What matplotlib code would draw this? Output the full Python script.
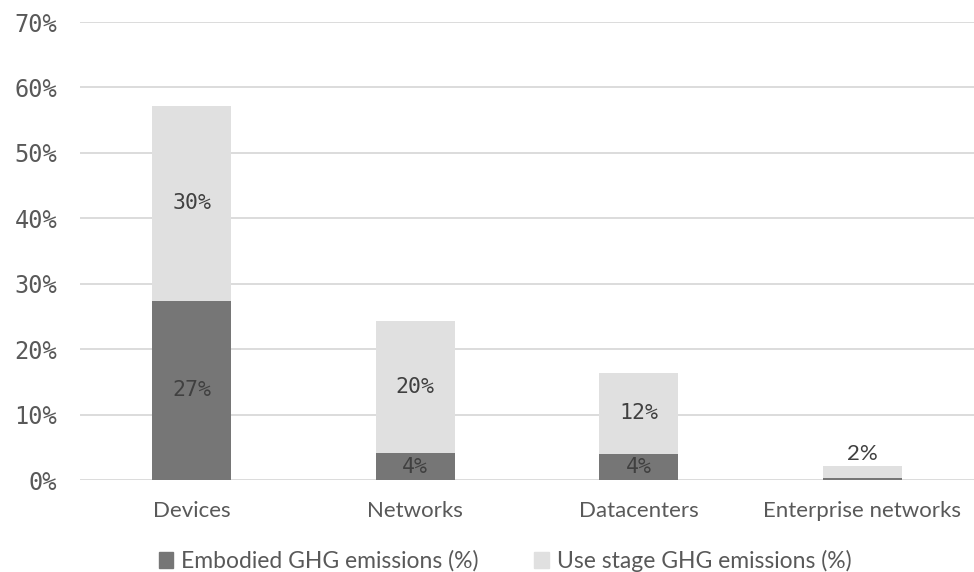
import matplotlib
matplotlib.use("Agg")
import matplotlib.pyplot as plt
from matplotlib.patches import Patch
import numpy as np

categories = ["Devices", "Networks", "Datacenters", "Enterprise networks"]
embodied = [27.4, 4.1, 4.0, 0.3]
use_stage = [29.8, 20.2, 12.4, 1.8]
embodied_labels = ["27%", "4%", "4%", None]
use_labels = ["30%", "20%", "12%", "2%"]
y_ticks = [0, 10, 20, 30, 40, 50, 60, 70]

dark = "#767676"
light = "#e0e0e0"
grid = "#d9d9d9"
tick_col = "#595959"
label_col = "#404040"
sans = ["Lato", "DejaVu Sans"]
mono = ["DejaVu Sans Mono"]

fig = plt.figure(figsize=(9.74, 5.72), dpi=100)
ax = fig.add_axes([80 / 974, 1 - 480 / 572, 1 - 80 / 974, (480 - 22) / 572])

x = np.arange(len(categories))
w = 0.355
ax.bar(x, embodied, w, color=dark, zorder=3)
ax.bar(x, use_stage, w, bottom=embodied, color=light, zorder=3)

for i in range(len(categories)):
    if embodied_labels[i]:
        ax.text(x[i], embodied[i] / 2, embodied_labels[i], ha="center", va="center",
                fontsize=15.5, family=mono, color=label_col, zorder=4)
    top = embodied[i] + use_stage[i]
    if use_stage[i] > 5:
        ax.text(x[i], embodied[i] + use_stage[i] / 2, use_labels[i], ha="center",
                va="center", fontsize=15.5, family=mono, color=label_col, zorder=4)
    else:
        ax.text(x[i], top + 0.3, use_labels[i], ha="center", va="bottom",
                fontsize=16, family=sans, color=label_col, zorder=4)

ax.set_xlim(-0.5, len(categories) - 0.5)
ax.set_ylim(0, 70)
ax.set_yticks(y_ticks)
ax.set_yticklabels([f"{t}%" for t in y_ticks], family=mono, fontsize=17, color=tick_col)
ax.set_xticks(x)
ax.set_xticklabels(categories, family=sans, fontsize=16, color=tick_col)
ax.tick_params(axis="both", length=0)
ax.tick_params(axis="y", pad=16.5)
ax.tick_params(axis="x", pad=15)
ax.yaxis.grid(True, color=grid, linewidth=1.3, zorder=0)
for s in ax.spines.values():
    s.set_visible(False)

handles = [Patch(color=dark), Patch(color=light)]
fig.legend(handles, ["Embodied GHG emissions (%)", "Use stage GHG emissions (%)"],
           loc="center", bbox_to_anchor=(505 / 974, 1 - 561 / 572), ncol=2, frameon=False,
           prop={"family": sans, "size": 16.5}, labelcolor=tick_col, handlelength=0.65,
           handleheight=0.65, handletextpad=0.35, columnspacing=2.4)

fig.savefig("out.png", dpi=100)
